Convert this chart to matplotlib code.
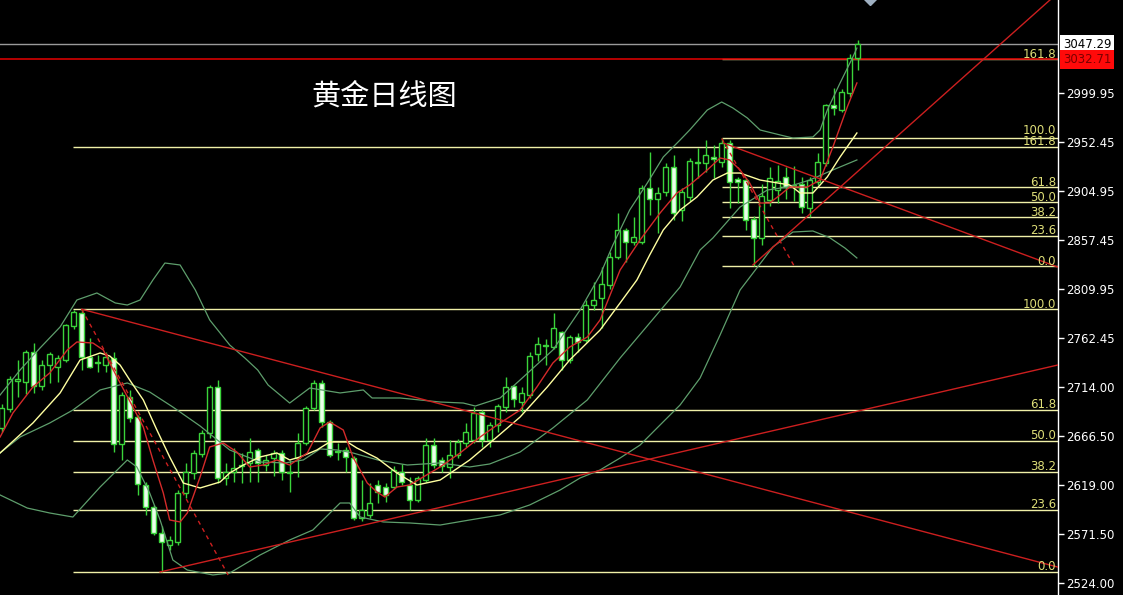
import matplotlib
matplotlib.use('Agg')
import matplotlib.pyplot as plt
from matplotlib.transforms import blended_transform_factory, offset_copy

plt.rcParams['font.family'] = ['Noto Sans CJK SC', 'DejaVu Sans']

title = '黄金日线图'

# daily candles (oldest -> newest)
opens = [2675, 2693, 2720, 2719, 2748, 2715, 2736, 2734, 2741, 2774,
         2786, 2743.5, 2738.5, 2736, 2742.5, 2659, 2704.7, 2685, 2619, 2598,
         2572.6, 2561, 2564, 2611.4, 2631, 2649, 2669.7, 2714, 2626, 2632,
         2638.6, 2640.5, 2653, 2638.6, 2645, 2650, 2632, 2645, 2660, 2694,
         2718, 2680.4, 2652.5, 2653, 2645, 2587, 2590, 2619, 2617, 2617,
         2632, 2619, 2604.6, 2624, 2658, 2643.5, 2636.7, 2648, 2660, 2663,
         2690, 2663, 2677.5, 2695, 2715, 2699.8, 2706.6, 2746.4, 2755.5, 2753,
         2767.8, 2740.6, 2763, 2760, 2794, 2800.8, 2813.5, 2840.7, 2867, 2855,
         2855, 2907.7, 2897, 2903.8, 2928, 2886, 2899, 2933, 2932, 2938,
         2933, 2951.4, 2916.4, 2915.4, 2877.6, 2859, 2896, 2906, 2918, 2911,
         2911.5, 2888, 2913.5, 2932, 2988, 2983.5, 3000, 3034]
highs = [2698, 2725, 2741, 2750, 2757, 2741, 2748, 2745.5, 2776, 2789,
         2790, 2762, 2745.5, 2748, 2748, 2709.5, 2711.5, 2687, 2622, 2600,
         2579, 2570, 2614, 2640.5, 2653, 2673, 2716, 2721, 2640.5, 2655,
         2650, 2665, 2655, 2648, 2653, 2653, 2643.5, 2669.7, 2696, 2721,
         2721, 2682, 2660, 2656, 2647, 2624, 2621, 2624, 2621, 2638,
         2640, 2627, 2628, 2665, 2665, 2646.4, 2663, 2664, 2679, 2695,
         2692, 2680, 2698, 2724, 2716, 2714, 2748, 2763, 2761, 2786,
         2769, 2765, 2767, 2799, 2816, 2831, 2845.5, 2883, 2869, 2879.5,
         2910.6, 2942.6, 2908.6, 2932, 2939.7, 2908, 2937, 2946.5, 2954, 2949.4,
         2956, 2954, 2918, 2917, 2880, 2912, 2928, 2930, 2928, 2929,
         2918, 2918, 2941.6, 2989, 3004.8, 3004, 3037.8, 3051.4]
lows = [2671, 2690, 2705, 2708, 2708.5, 2711, 2718, 2719, 2739, 2771,
        2731, 2733, 2729, 2729, 2651, 2643.5, 2680.4, 2609.5, 2590, 2570.6,
        2535, 2556, 2561, 2607, 2625, 2646, 2665, 2621, 2619, 2622,
        2621, 2622, 2622, 2633, 2628, 2624, 2612, 2627, 2658, 2692,
        2676, 2646, 2643.5, 2632, 2585, 2584, 2587, 2601.7, 2603, 2615,
        2619, 2595, 2603, 2622, 2636, 2632, 2626, 2645, 2656, 2660,
        2656, 2656, 2671, 2690, 2695, 2690, 2704, 2740, 2735.7, 2751,
        2731, 2738, 2748, 2758, 2789, 2771.7, 2810, 2839, 2836, 2852,
        2853, 2881, 2864, 2900, 2876.6, 2876, 2895, 2917, 2923, 2917,
        2928, 2888, 2893, 2867, 2832, 2852, 2890, 2893, 2897, 2895,
        2883, 2879.5, 2911, 2929, 2979, 2981, 2996, 3022]
closes = [2694, 2722, 2722, 2748, 2715, 2736, 2746, 2742.5, 2775, 2787,
          2743.5, 2734, 2737.5, 2743.5, 2659, 2706.6, 2684, 2620, 2598, 2572.6,
          2564, 2566, 2611.4, 2632, 2650, 2669.7, 2714, 2626, 2632, 2635.7,
          2637.6, 2651, 2640.5, 2643.5, 2650, 2632, 2631, 2660, 2694, 2718,
          2680.4, 2648, 2651.5, 2646, 2587, 2595, 2601.7, 2612, 2609.5, 2633.8,
          2622, 2604.6, 2626, 2658, 2638.6, 2637.6, 2648, 2661, 2670.7, 2689,
          2663, 2677.5, 2696, 2714, 2702.7, 2708.5, 2744.5, 2756, 2754.5, 2771.7,
          2740.6, 2763, 2758, 2794, 2799, 2814, 2840.7, 2867, 2855, 2860,
          2907.7, 2897, 2903, 2928, 2883, 2903.8, 2934, 2932, 2939.7, 2936,
          2951.4, 2913.5, 2913.5, 2876.6, 2859, 2900, 2917, 2914, 2908.6, 2910,
          2889, 2915.4, 2933, 2988, 2985, 3001, 3034, 3047.29]

# indicator lines: (candle index, price)
ma5_x = [-0.2, 1.4, 3.9, 6.0, 8.2, 9.4, 11.4, 12.7, 13.5, 14.8, 16.4, 17.7, 18.9, 20.2,
         21.0, 22.3, 23.2, 24.8, 26.0, 27.7, 29.4, 31.0, 32.7, 34.4, 36.0, 38.2, 39.8,
         41.0, 42.7, 43.9, 45.7, 46.9, 47.9, 49.4, 51.0, 52.7, 54.8, 57.3, 59.8, 62.3,
         64.8, 66.9, 68.9, 71.0, 73.2, 74.8, 77.3, 79.8, 82.3, 84.4, 86.0, 88.2, 89.8,
         91.0, 92.3, 93.5, 94.8, 96.0, 97.3, 98.5, 100.7, 102.3, 103.9, 105.7, 106.9]
ma5_y = [2665.8, 2689.1, 2714.4, 2728.0, 2750.3, 2758.1, 2757.1, 2750.3, 2737.7, 2718.3,
         2694.9, 2675.5, 2643.5, 2611.4, 2585.2, 2583.3, 2592.0, 2627.0, 2656.1, 2660.0,
         2651.2, 2636.7, 2638.6, 2643.5, 2638.6, 2650.3, 2674.6, 2680.4, 2672.6, 2646.4,
         2621.1, 2612.4, 2607.5, 2617.2, 2619.2, 2627.0, 2636.7, 2650.3, 2665.8, 2679.4,
         2692.0, 2714.4, 2737.7, 2753.2, 2762.9, 2779.5, 2828.0, 2857.2, 2883.4, 2902.8,
         2910.6, 2925.2, 2936.8, 2934.9, 2925.2, 2912.5, 2893.1, 2893.1, 2900.9, 2908.6,
         2908.6, 2915.4, 2947.5, 2986.4, 3009.7]

ma10_x = [-0.2, 3.9, 7.3, 9.8, 12.3, 13.5, 14.8, 16.0, 17.7, 19.4, 21.0, 22.7, 24.8, 27.3,
          28.5, 30.2, 32.3, 34.4, 36.0, 37.3, 39.4, 41.0, 43.2, 44.4, 46.9, 49.4, 51.9,
          54.8, 58.5, 61.9, 64.8, 68.2, 71.0, 74.8, 77.3, 79.4, 81.0, 82.7, 84.8, 86.9,
          88.9, 90.7, 92.3, 94.8, 98.5, 99.8, 101.4, 103.2, 104.8, 106.9]
ma10_y = [2650.3, 2679.4, 2708.6, 2740.6, 2747.4, 2744.5, 2735.7, 2721.2, 2701.8, 2672.6,
          2646.4, 2621.1, 2616.3, 2622.1, 2630.8, 2638.6, 2646.4, 2650.3, 2643.5, 2646.4,
          2653.2, 2661.0, 2661.0, 2655.1, 2645.4, 2630.8, 2619.2, 2624.0, 2643.5, 2665.8,
          2685.2, 2714.4, 2740.6, 2769.7, 2796.0, 2818.3, 2842.6, 2866.9, 2886.3, 2898.9,
          2915.4, 2922.2, 2922.2, 2915.4, 2910.6, 2902.8, 2902.8, 2918.4, 2937.8, 2961.1]

mid_x = [-0.2, 2.3, 6.0, 8.9, 12.3, 15.7, 18.5, 21.4, 24.8, 28.5, 32.3, 35.4, 37.7, 39.8,
         41.9, 43.9, 47.0, 50.7, 54.8, 58.5, 61.0, 64.8, 68.9, 73.2, 77.3, 81.0, 84.8,
         87.3, 88.9, 92.3, 95.7, 98.2, 101.0, 103.9, 106.9]
mid_y = [2650.3, 2665.8, 2679.4, 2692.0, 2711.5, 2718.3, 2709.5, 2694.9, 2676.5, 2653.2,
         2641.5, 2640.6, 2643.5, 2654.2, 2653.2, 2650.3, 2643.5, 2638.6, 2640.6, 2636.7,
         2639.6, 2651.2, 2674.6, 2701.8, 2742.5, 2776.5, 2811.5, 2847.5, 2859.1, 2889.2,
         2905.7, 2908.6, 2915.4, 2925.2, 2934.9]

upper_x = [-0.2, 2.3, 4.8, 7.3, 9.4, 11.9, 14.2, 15.7, 17.3, 18.9, 20.4, 22.3, 24.2, 26.0,
           28.5, 30.4, 32.0, 33.3, 36.0, 38.5, 42.3, 45.2, 46.3, 49.8, 54.8, 57.7, 59.2,
           62.3, 64.8, 68.9, 72.3, 74.8, 76.4, 78.5, 80.7, 82.7, 84.8, 86.0, 88.2, 90.0,
           91.4, 93.2, 94.8, 97.3, 98.9, 101.4, 102.3, 103.2, 104.8, 106.4, 106.9]
upper_y = [2706.6, 2730.9, 2752.3, 2772.7, 2798.9, 2805.7, 2796.0, 2794.0, 2798.9, 2818.3,
           2834.8, 2832.9, 2808.6, 2779.5, 2755.2, 2742.5, 2730.9, 2716.3, 2698.8, 2713.4,
           2708.6, 2711.5, 2703.7, 2703.7, 2699.8, 2698.8, 2695.9, 2703.7, 2721.2, 2750.3,
           2789.2, 2823.2, 2852.3, 2886.3, 2912.5, 2937.8, 2954.3, 2964.0, 2983.4, 2991.2,
           2985.4, 2975.7, 2964.0, 2959.2, 2956.2, 2957.2, 2964.0, 2983.4, 3009.7, 3034.9,
           3043.6]

lower_x = [-0.2, 3.2, 6.0, 8.9, 12.3, 15.7, 16.9, 18.5, 19.8, 21.4, 23.2, 26.4, 28.5, 32.3,
           36.0, 38.9, 42.3, 43.5, 44.8, 47.7, 51.0, 54.8, 58.5, 62.3, 66.0, 69.8, 72.3,
           74.8, 77.3, 79.8, 82.3, 84.8, 87.3, 89.8, 92.3, 94.4, 96.4, 98.9, 101.4, 103.5,
           105.4, 106.9]
lower_y = [2609.5, 2596.8, 2592.0, 2588.1, 2617.2, 2643.5, 2636.7, 2611.4, 2585.2, 2546.3,
           2536.6, 2531.8, 2533.7, 2551.2, 2565.8, 2575.5, 2601.7, 2601.7, 2588.1, 2583.3,
           2582.3, 2580.3, 2585.2, 2590.1, 2599.8, 2614.3, 2626.0, 2633.8, 2645.4, 2658.0,
           2677.5, 2696.9, 2723.1, 2764.9, 2808.6, 2830.0, 2850.4, 2864.9, 2865.9, 2859.4,
           2849.4, 2839.7]

# fibonacci retracements: (start index, low, high)
fib_ratios = [1.618, 1.0, 0.618, 0.5, 0.382, 0.236, 0.0]
fib_sets = [(8.9, 2534.7, 2789.9), (90.0, 2831.9, 2955.9)]

# trend lines: ((index, price), (index, price))
trend_lines = [((10.0, 2789.9), (132.0, 2539.5)),
               ((19.8, 2534.7), (132.0, 2735.7)),
               ((93.9, 2832.9), (132.0, 3097.0)),
               ((90.2, 2951.4), (132.0, 2830.9))]
dashed_lines = [((10.0, 2789.9), (28.3, 2531.8)),
                ((90.0, 2955.9), (99.2, 2830.0))]

bid = 3047.29
alert = 3032.71
ticks = [2524.00, 2571.50, 2619.00, 2666.50, 2714.00, 2762.45, 2809.95,
         2857.45, 2904.95, 2952.45, 2999.95]

W, H = 1123, 595
fig = plt.figure(figsize=(W / 100, H / 100), dpi=100, facecolor='black')
ax = fig.add_axes([0, 0, 1058 / W, 1])
ax.set_facecolor('black')
ax.set_xlim(-0.2125, 132.04)
ax.set_ylim(2512.34, 3090.27)

green = '#3ad43a'
fibc = '#f0f0a8'
fibt = '#dede78'
trans = blended_transform_factory(ax.transAxes, ax.transData)

# fib lines + labels (label sits just above its line)
labels = []
for start, lo, hi in fib_sets:
    for r in fib_ratios:
        p = lo + r * (hi - lo)
        ax.hlines(p, start, 132.04, color=fibc, lw=1, zorder=1)
        labels.append((p, f'{r * 100:.1f}'))
labels.sort()
prev = None
for p, txt in labels:
    shift = 1.5
    if prev is not None and p - prev < 11:
        shift = 4.0  # nudge the upper one of two close labels
    ax.text(0.998, p, txt, transform=offset_copy(trans, fig=fig, y=shift, units='dots'),
            ha='right', va='baseline', color=fibt, fontsize=8.5, family='DejaVu Sans', zorder=6)
    prev = p

# price lines
ax.axhline(bid, color='#9a9a9a', lw=1, zorder=1)
ax.axhline(alert, color='#d40000', lw=1.2, zorder=2)

# candles
for i in range(len(opens)):
    o, h, l, c = opens[i], highs[i], lows[i], closes[i]
    ax.vlines(i, l, h, color=green, lw=1, zorder=3)
    bottom = min(o, c)
    height = max(abs(c - o), 0.8)
    if c > o:
        ax.bar(i, height, 0.66, bottom, facecolor='black', edgecolor=green, lw=1, zorder=4)
    else:
        ax.bar(i, height, 0.66, bottom, facecolor='#eaffea', edgecolor=green, lw=1, zorder=4)

# bollinger bands and moving averages
band = '#5e9e6c'
ax.plot(upper_x, upper_y, color=band, lw=0.9, zorder=5)
ax.plot(mid_x, mid_y, color=band, lw=0.9, zorder=5)
ax.plot(lower_x, lower_y, color=band, lw=0.9, zorder=5)
ax.plot(ma10_x, ma10_y, color='#ffffa0', lw=1, zorder=5)
ax.plot(ma5_x, ma5_y, color='#d42a2a', lw=1, zorder=5)

for (x0, y0), (x1, y1) in trend_lines:
    ax.plot([x0, x1], [y0, y1], color='#cc1f1f', lw=1, zorder=5)
for (x0, y0), (x1, y1) in dashed_lines:
    ax.plot([x0, x1], [y0, y1], color='#cc1f1f', lw=1, ls=(0, (3, 3)), zorder=5)

# little marker at top edge
ax.plot([108.5], [3092], marker='D', ms=7, color='#9fb0c2', clip_on=True, zorder=6)

# axis
for s in ['top', 'left', 'bottom']:
    ax.spines[s].set_visible(False)
ax.spines['right'].set_color('white')
ax.spines['right'].set_linewidth(1)
ax.set_xticks([])
ax.yaxis.tick_right()
ax.set_yticks(ticks)
ax.set_yticklabels([f'{t:.2f}' for t in ticks], family='DejaVu Sans')
ax.tick_params(axis='y', colors='white', length=4, width=1, labelsize=8.5, pad=2)

ax.text(1.0 + 5 / 1058, bid, f'{bid:.2f}', transform=trans, ha='left', va='center',
        color='black', fontsize=8.5, family='DejaVu Sans', clip_on=False,
        bbox=dict(boxstyle='square,pad=0.25', facecolor='white', edgecolor='none'))
ax.text(1.0 + 5 / 1058, alert, f'{alert:.2f}', transform=trans, ha='left', va='center',
        color='#7a0000', fontsize=8.5, family='DejaVu Sans', clip_on=False,
        bbox=dict(boxstyle='square,pad=0.25', facecolor='#ff0a0a', edgecolor='none'))

fig.text(384 / W, 1 - 97 / H, title, color='white', fontsize=21, ha='center', va='center',
         family=['Noto Sans CJK SC', 'DejaVu Sans'])

fig.savefig('out.png', dpi=100, facecolor='black')
